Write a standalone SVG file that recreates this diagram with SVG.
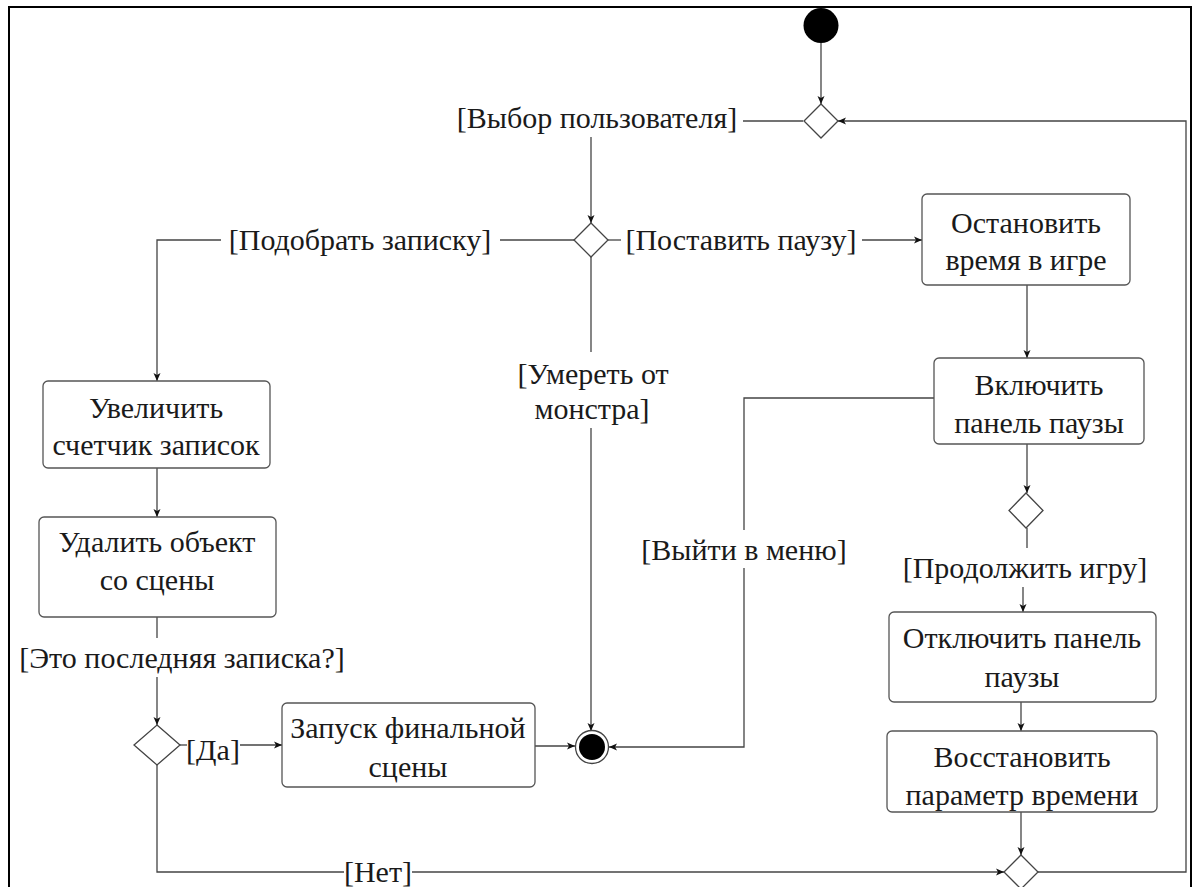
<svg xmlns="http://www.w3.org/2000/svg" width="1199" height="887" viewBox="0 0 1199 887">
<defs>
<marker id="arr" markerWidth="10" markerHeight="8" refX="8" refY="4" orient="auto" markerUnits="userSpaceOnUse">
<path d="M0,0.5 L8,4 L0,7.5 L2,4 z" fill="#111"/>
</marker>
<style>
text{font-family:Liberation Serif, Times New Roman, Times, serif}
.t{font-size:30px;fill:#1a1a1a;text-anchor:middle}
.box{fill:#fff;stroke:#555;stroke-width:1.3}
.dia{fill:#fff;stroke:#444;stroke-width:1.3}
.c{fill:none;stroke:#444;stroke-width:1.3}
.ca{fill:none;stroke:#444;stroke-width:1.3;marker-end:url(#arr)}
</style>
</defs>
<rect width="1199" height="887" fill="#fff"/>
<rect x="9" y="7" width="1182" height="910" fill="none" stroke="#000" stroke-width="2"/>

<g id="connectors">
<path class="ca" d="M821 43 V104"/>
<path class="c" d="M803 121 H743"/>
<path class="ca" d="M591 137 V223"/>
<path class="c" d="M574 240 H500"/>
<path class="ca" d="M221 240 H157 V381"/>
<path class="c" d="M608 240 H621"/>
<path class="ca" d="M862 240 H922"/>
<path class="ca" d="M1027 285 V358"/>
<path class="c" d="M934 398 H744 V530"/>
<path class="ca" d="M744 568 V747 H609"/>
<path class="ca" d="M1027 444 V493"/>
<path class="c" d="M1027 528 V548"/>
<path class="ca" d="M1023 587 V612"/>
<path class="ca" d="M1021 702 V731"/>
<path class="ca" d="M1021 812 V855"/>
<path class="ca" d="M1038 872 H1186 V121 H838"/>
<path class="c" d="M591 257 V352"/>
<path class="ca" d="M591 428 V731"/>
<path class="ca" d="M157 468 V517"/>
<path class="c" d="M157 617 V638"/>
<path class="ca" d="M157 677 V725"/>
<path class="c" d="M180 745 H187"/>
<path class="ca" d="M240 745 H282"/>
<path class="ca" d="M535 746 H575"/>
<path class="c" d="M157 765 V872 H344"/>
<path class="ca" d="M412 872 H1004"/>
</g>

<g id="labels">
<text class="t" font-family="Liberation Serif" x="597" y="128">[Выбор пользователя]</text>
<text class="t" font-family="Liberation Serif" x="360" y="250">[Подобрать записку]</text>
<text class="t" font-family="Liberation Serif" x="741" y="250">[Поставить паузу]</text>
<text class="t" font-family="Liberation Serif" x="593" y="384">[Умереть от</text>
<text class="t" font-family="Liberation Serif" x="592" y="419">монстра]</text>
<text class="t" font-family="Liberation Serif" x="744" y="560">[Выйти в меню]</text>
<text class="t" font-family="Liberation Serif" x="1025" y="578">[Продолжить игру]</text>
<text class="t" font-family="Liberation Serif" x="182" y="668">[Это последняя записка?]</text>
<text class="t" font-family="Liberation Serif" x="213" y="760">[Да]</text>
<text class="t" font-family="Liberation Serif" x="378" y="882">[Нет]</text>
</g>

<g id="start"><circle cx="821" cy="25.5" r="17.5" fill="#000"/></g>
<g id="merge1"><path class="dia" d="M821 104 L838 121 L821 138 L804 121 Z"/></g>
<g id="decision1"><path class="dia" d="M591 223 L608 240 L591 257 L574 240 Z"/></g>
<g id="decision2"><path class="dia" d="M1026 493 L1043 510.5 L1026 528 L1009 510.5 Z"/></g>
<g id="decision3"><path class="dia" d="M157 725 L180 745 L157 765 L134 745 Z"/></g>
<g id="merge2"><path class="dia" d="M1021 855 L1038 872 L1021 889 L1004 872 Z"/></g>
<g id="end"><circle cx="592" cy="747" r="16.5" fill="#fff" stroke="#444" stroke-width="1.3"/><circle cx="592" cy="747" r="13" fill="#000"/></g>

<g id="stopTime"><rect class="box" x="922" y="194" width="208" height="91" rx="5"/>
<text class="t" font-family="Liberation Serif" x="1026" y="233">Остановить</text><text class="t" font-family="Liberation Serif" x="1026" y="270">время в игре</text></g>
<g id="pausePanelOn"><rect class="box" x="934" y="358" width="210" height="86" rx="5"/>
<text class="t" font-family="Liberation Serif" x="1039" y="395">Включить</text><text class="t" font-family="Liberation Serif" x="1039" y="433">панель паузы</text></g>
<g id="pausePanelOff"><rect class="box" x="889" y="612" width="267" height="90" rx="5"/>
<text class="t" font-family="Liberation Serif" x="1022" y="648">Отключить панель</text><text class="t" font-family="Liberation Serif" x="1022" y="687">паузы</text></g>
<g id="restoreTime"><rect class="box" x="887" y="731" width="270" height="81" rx="5"/>
<text class="t" font-family="Liberation Serif" x="1022" y="767">Восстановить</text><text class="t" font-family="Liberation Serif" x="1022" y="805">параметр времени</text></g>
<g id="incCounter"><rect class="box" x="43" y="381" width="227" height="87" rx="5"/>
<text class="t" font-family="Liberation Serif" x="156" y="418">Увеличить</text><text class="t" font-family="Liberation Serif" x="156" y="455">счетчик записок</text></g>
<g id="removeObj"><rect class="box" x="39" y="517" width="237" height="100" rx="5"/>
<text class="t" font-family="Liberation Serif" x="157" y="552">Удалить объект</text><text class="t" font-family="Liberation Serif" x="157" y="590">со сцены</text></g>
<g id="finalScene"><rect class="box" x="282" y="703" width="253" height="84" rx="5"/>
<text class="t" font-family="Liberation Serif" x="408" y="738">Запуск финальной</text><text class="t" font-family="Liberation Serif" x="408" y="777">сцены</text></g>
</svg>
